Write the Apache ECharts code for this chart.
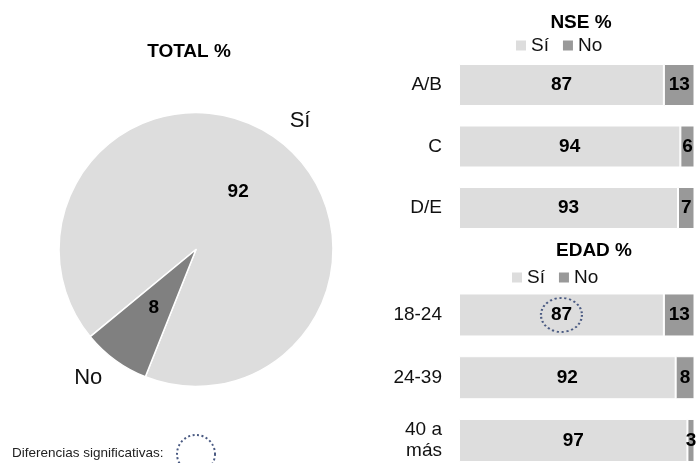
<!DOCTYPE html>
<html>
<head>
<meta charset="utf-8">
<script src="https://cdn.jsdelivr.net/npm/echarts@6/dist/echarts.min.js"></script>
<style>
  html, body { margin: 0; padding: 0; background: #ffffff; }
  #chart { width: 698px; height: 463px; }
</style>
</head>
<body>
<div id="chart"></div>
<script>
// Respuestas totales
const totalNames = ['Sí', 'No'];
const totalValues = [92, 8];

// Por nivel socioeconómico
const nseCats = ['A/B', 'C', 'D/E'];
const nseSi = [87, 94, 93];
const nseNo = [13, 6, 7];

// Por edad
const edadCats = ['18-24', '24-39', '40 a\nmás'];
const edadSi = [87, 92, 97];
const edadNo = [13, 8, 3];

// Celda con diferencia significativa (fila de EDAD, serie Sí)
const sigIndex = 0;

const FONT = '"Liberation Sans", Arial, sans-serif';
const COLOR_SI = '#DDDDDD';
const COLOR_NO_PIE = '#808080';
const COLOR_NO_BAR = '#999999';
const DOT_COLOR = '#4a5a82';

const chart = echarts.init(document.getElementById('chart'), null, { renderer: 'canvas' });

const valueLabel = {
  show: true,
  position: 'inside',
  color: '#000',
  fontFamily: FONT,
  fontWeight: 'bold',
  fontSize: 19
};

function barPair(cats, si, no, idx, barWidth, mark) {
  const siSeries = {
    name: 'Sí', type: 'bar', stack: 'g' + idx,
    xAxisIndex: idx, yAxisIndex: idx,
    barWidth: barWidth,
    data: si,
    itemStyle: { color: COLOR_SI, borderColor: '#fff', borderWidth: 1 },
    label: valueLabel,
    emphasis: { disabled: true }
  };
  if (mark) {
    siSeries.markPoint = {
      silent: true,
      symbol: 'circle',
      symbolSize: [41, 34],
      label: { show: false },
      itemStyle: {
        color: 'transparent',
        borderColor: DOT_COLOR,
        borderWidth: 2,
        borderType: [2, 2.5]
      },
      data: [{ coord: [si[sigIndex] / 2, cats[sigIndex]] }]
    };
  }
  const noSeries = {
    name: 'No', type: 'bar', stack: 'g' + idx,
    xAxisIndex: idx, yAxisIndex: idx,
    barWidth: barWidth,
    data: no,
    itemStyle: { color: COLOR_NO_BAR, borderColor: '#fff', borderWidth: 1 },
    label: valueLabel,
    emphasis: { disabled: true }
  };
  return [siSeries, noSeries];
}

const catAxisLabel = {
  color: '#111',
  fontFamily: FONT,
  fontSize: 19,
  lineHeight: 21,
  margin: 17,
  align: 'right'
};

const legendBase = {
  orient: 'horizontal',
  icon: 'rect',
  itemWidth: 10,
  itemHeight: 10,
  itemGap: 14,
  padding: 0,
  selectedMode: false,
  itemStyle: { borderWidth: 0 },
  textStyle: { color: '#111', fontFamily: FONT, fontSize: 19 },
  data: ['Sí', 'No']
};

const option = {
  animation: false,
  backgroundColor: '#ffffff',
  title: [
    { text: 'TOTAL %', left: 189, top: 42, textAlign: 'center', padding: 0,
      textStyle: { fontFamily: FONT, fontWeight: 'bold', fontSize: 19, color: '#000' } },
    { text: 'NSE %', left: 581, top: 13, textAlign: 'center', padding: 0,
      textStyle: { fontFamily: FONT, fontWeight: 'bold', fontSize: 19, color: '#000' } },
    { text: 'EDAD %', left: 594, top: 241, textAlign: 'center', padding: 0,
      textStyle: { fontFamily: FONT, fontWeight: 'bold', fontSize: 19, color: '#000' } }
  ],
  legend: [
    Object.assign({}, legendBase, { left: 516, top: 36 }),
    Object.assign({}, legendBase, { left: 512, top: 268 })
  ],
  grid: [
    { left: 459, width: 235.5, top: 54.25, height: 184.5, outerBoundsMode: 'none' },
    { left: 459, width: 235.5, top: 283.6, height: 188.25, outerBoundsMode: 'none' }
  ],
  xAxis: [0, 1].map(i => ({
    type: 'value', gridIndex: i, min: 0, max: 100, show: false
  })),
  yAxis: [
    { type: 'category', gridIndex: 0, data: nseCats, inverse: true,
      axisLine: { show: false }, axisTick: { show: false }, axisLabel: catAxisLabel },
    { type: 'category', gridIndex: 1, data: edadCats, inverse: true,
      axisLine: { show: false }, axisTick: { show: false }, axisLabel: catAxisLabel }
  ],
  graphic: [
    {
      type: 'text', left: 12, top: 446,
      style: { text: 'Diferencias significativas:', fontFamily: FONT, fontSize: 13.5, fill: '#222' }
    },
    {
      type: 'circle', shape: { cx: 196, cy: 454, r: 19 },
      style: { fill: 'none', stroke: DOT_COLOR, lineWidth: 2, lineDash: [2, 2.5] }
    }
  ],
  series: [
    {
      name: 'TOTAL', type: 'pie',
      center: [196, 249.5], radius: 137,
      startAngle: 219.5, clockwise: true,
      data: totalNames.map((n, i) => ({
        name: n, value: totalValues[i],
        itemStyle: { color: i === 0 ? COLOR_SI : COLOR_NO_PIE }
      })),
      itemStyle: { borderColor: '#fff', borderWidth: 1.5 },
      label: {
        show: true, position: 'inside', formatter: '{c}',
        color: '#000', fontFamily: FONT, fontWeight: 'bold', fontSize: 19
      },
      labelLine: { show: false },
      emphasis: { disabled: true },
      silent: true
    },
    {
      name: 'TOTAL nombres', type: 'pie',
      center: [196, 249.5], radius: 137,
      startAngle: 219.5, clockwise: true,
      data: totalNames.map((n, i) => ({ name: n, value: totalValues[i] })),
      itemStyle: { color: 'transparent', borderWidth: 0 },
      label: {
        show: true, position: 'outside', formatter: '{b}',
        distanceToLabelLine: 0,
        color: '#111', fontFamily: FONT, fontSize: 22
      },
      labelLine: { show: false, length: 22, length2: 0 },
      avoidLabelOverlap: false,
      emphasis: { disabled: true },
      silent: true
    },
    ...barPair(nseCats, nseSi, nseNo, 0, 42, false),
    ...barPair(edadCats, edadSi, edadNo, 1, 43, true)
  ]
};

chart.setOption(option);
</script>
</body>
</html>
